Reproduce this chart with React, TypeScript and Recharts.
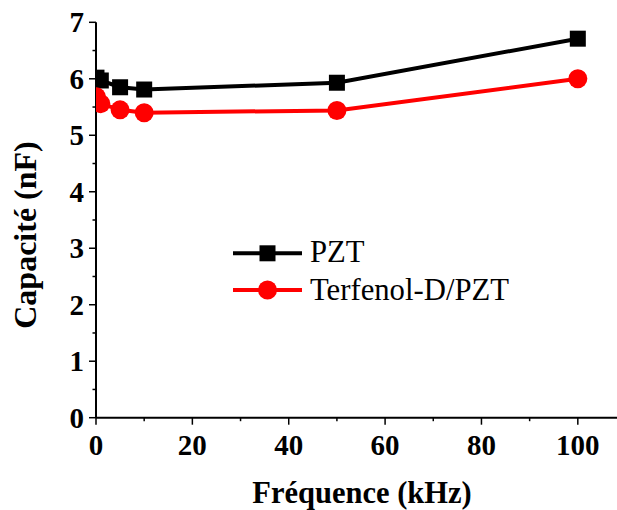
import React, { useLayoutEffect } from 'react';
import { LineChart, Line, XAxis, YAxis } from 'recharts';

// ---- data ----
const frequencies = [0.1, 1, 5, 10, 50, 100];
const pztCapacitance = [6.02, 5.97, 5.85, 5.81, 5.93, 6.71];
const terfenolCapacitance = [5.68, 5.56, 5.45, 5.4, 5.44, 6.0];
const seriesNames = ['PZT', 'Terfenol-D/PZT'];
const seriesColors = ['#000000', '#ff0000'];
const xTicks = [0, 10, 20, 30, 40, 50, 60, 70, 80, 90, 100, 110];
const xMajorTicks = [0, 20, 40, 60, 80, 100];
const topTicks = [0, 10, 20, 30, 40, 50, 60, 70, 80, 90, 100];
const yTicks = [0, 0.5, 1, 1.5, 2, 2.5, 3, 3.5, 4, 4.5, 5, 5.5, 6, 6.5, 7];
const xTitle = 'Fréquence (kHz)';
const yTitle = 'Capacité (nF)';

const data = frequencies.map((f, i) => ({
  f,
  pzt: pztCapacitance[i],
  tpzt: terfenolCapacitance[i],
}));

const FONT = '"Liberation Serif", "Times New Roman", serif';

const BottomTick = (props: any) => {
  const { x, y, payload } = props;
  const v = payload.value;
  const major = xMajorTicks.includes(v);
  return (
    <g>
      <line x1={x} x2={x} y1={y} y2={y + (major ? 7 : 3.5)} stroke="#000" strokeWidth={1.5} />
      {major && (
        <text x={x} y={y + 37.3} textAnchor="middle" fontFamily={FONT} fontWeight="bold" fontSize={29} fill="#000">
          {v}
        </text>
      )}
    </g>
  );
};

const TopTick = (props: any) => {
  const { x, y } = props;
  return <line x1={x} x2={x} y1={y} y2={y + 3.5} stroke="#000" strokeWidth={1.2} />;
};

const LeftTick = (props: any) => {
  const { x, y, payload } = props;
  const v = payload.value;
  const major = Number.isInteger(v);
  return (
    <g>
      <line x1={x - (major ? 7 : 3.5)} x2={x} y1={y} y2={y} stroke="#000" strokeWidth={1.5} />
      {major && (
        <text x={x - 12} y={y + 10} textAnchor="end" fontFamily={FONT} fontWeight="bold" fontSize={29} fill="#000">
          {v}
        </text>
      )}
    </g>
  );
};

const SquareDot = (props: any) => {
  const { cx, cy } = props;
  if (cx == null || cy == null) return null;
  return <rect x={cx - 8} y={cy - 8} width={16} height={16} fill="#000" />;
};

const CircleDot = (props: any) => {
  const { cx, cy } = props;
  if (cx == null || cy == null) return null;
  return <circle cx={cx} cy={cy} r={9.5} fill="#ff0000" />;
};

export default function App() {
  useLayoutEffect(() => {
    document.body.style.margin = '0px 0px 0px 8px';
  }, []);
  return (
    <div style={{ position: 'relative', width: 609, height: 510, overflow: 'hidden' }}>
      <LineChart
        width={626}
        height={510}
        data={data}
        margin={{ top: 22.3, right: 8, left: 0, bottom: 0 }}
      >
        <XAxis
          xAxisId="top"
          orientation="top"
          type="number"
          dataKey="f"
          domain={[0, 100]}
          ticks={topTicks}
          height={0}
          tickSize={0}
          tickMargin={0}
          tickLine={false}
          tick={<TopTick />}
          interval={0}
          axisLine={{ stroke: '#222', strokeWidth: 1.5 }}
        />
        <XAxis
          xAxisId="bottom"
          orientation="bottom"
          type="number"
          dataKey="f"
          domain={[0, 110]}
          allowDataOverflow
          ticks={xTicks}
          height={92.3}
          tickSize={0}
          tickMargin={0}
          tickLine={false}
          tick={<BottomTick />}
          interval={0}
          axisLine={{ stroke: '#000', strokeWidth: 2 }}
        />
        <YAxis
          yAxisId="left"
          type="number"
          domain={[0, 7]}
          allowDataOverflow
          ticks={yTicks}
          width={88}
          tickSize={0}
          tickMargin={0}
          tickLine={false}
          tick={<LeftTick />}
          interval={0}
          axisLine={{ stroke: '#000', strokeWidth: 2 }}
        />
        <Line
          xAxisId="bottom"
          yAxisId="left"
          type="linear"
          dataKey="pzt"
          name={seriesNames[0]}
          stroke={seriesColors[0]}
          strokeWidth={4}
          dot={<SquareDot />}
          activeDot={false}
          isAnimationActive={false}
        />
        <Line
          xAxisId="bottom"
          yAxisId="left"
          type="linear"
          dataKey="tpzt"
          name={seriesNames[1]}
          stroke={seriesColors[1]}
          strokeWidth={4}
          dot={<CircleDot />}
          activeDot={false}
          isAnimationActive={false}
        />
      </LineChart>
      <svg
        width={609}
        height={510}
        style={{ position: 'absolute', left: 0, top: 0, pointerEvents: 'none' }}
      >
        {/* Legend */}
        <line x1={225} x2={294} y1={253.3} y2={253.3} stroke={seriesColors[0]} strokeWidth={4} />
        <rect x={259.5 - 8} y={253.3 - 8} width={16} height={16} fill={seriesColors[0]} />
        <text x={302} y={262} fontFamily={FONT} fontSize={30.7} fill="#000">{seriesNames[0]}</text>
        <line x1={225} x2={294} y1={290} y2={290} stroke={seriesColors[1]} strokeWidth={4} />
        <circle cx={259.5} cy={290} r={9.5} fill={seriesColors[1]} />
        <text x={302} y={300} fontFamily={FONT} fontSize={30.7} fill="#000">{seriesNames[1]}</text>
        {/* Axis titles */}
        <text x={354} y={503} textAnchor="middle" fontFamily={FONT} fontWeight="bold" fontSize={30.5} fill="#000">
          {xTitle}
        </text>
        <text
          x={28}
          y={235}
          transform="rotate(-90 28 235)"
          textAnchor="middle"
          fontFamily={FONT}
          fontWeight="bold"
          fontSize={32}
          fill="#000"
        >
          {yTitle}
        </text>
      </svg>
    </div>
  );
}
